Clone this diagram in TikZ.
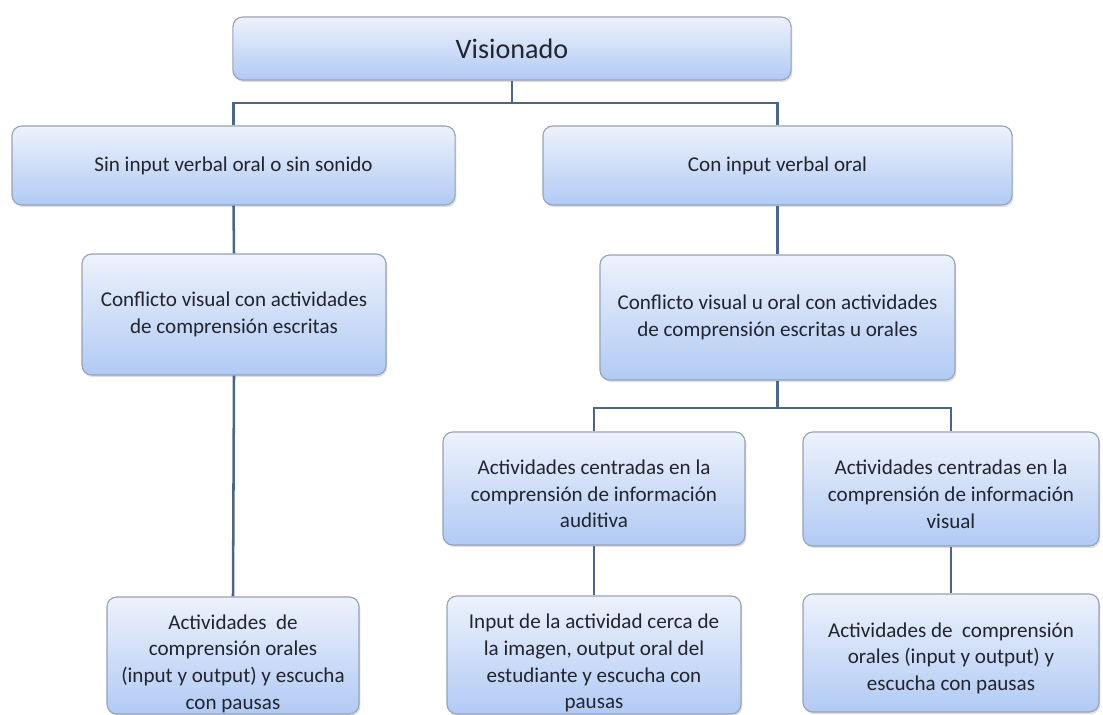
\documentclass[tikz,border=0pt]{standalone}
\usepackage{fontspec}
\setmainfont{Carlito}
\usetikzlibrary{shadows}

\definecolor{boxtop}{HTML}{EDF2FC}
\definecolor{boxbot}{HTML}{B1CAF4}
\definecolor{boxline}{HTML}{98A3B4}
\definecolor{linkc}{HTML}{4E6686}
\definecolor{txtc}{HTML}{22252F}

\newcommand{\lowerby}[1]{\rule{0pt}{#1}}

\tikzset{
  box/.style={draw=boxline, line width=0.8pt, rounded corners=7pt,
    top color=boxtop, bottom color=boxbot, align=center, text=txtc,
    inner sep=2pt, font=\fontsize{15}{19}\selectfont,
    drop shadow={opacity=0.25, shadow xshift=1pt, shadow yshift=-1.5pt}},
  link/.style={draw=linkc, line width=1.8pt}
}

\begin{document}
\begin{tikzpicture}[x=0.025cm, y=-0.025cm]
  \useasboundingbox (0, 0) rectangle (1103, 715);

  \node (vis) at (512, 48.5) [box, minimum width=13.95cm, minimum height=1.575cm,
    font=\fontsize{20}{24}\selectfont] {Visionado};

  \node (sin) at (233.5, 165.5) [box, minimum width=11.075cm, minimum height=1.975cm]
    {Sin input verbal oral o sin sonido};
  \node (con) at (777.5, 165.5) [box, minimum width=11.725cm, minimum height=1.975cm]
    {Con input verbal oral};

  \node (cvis) at (234, 314.5) [box, minimum width=7.6cm, minimum height=3.025cm]
    {Conflicto visual con actividades\\de comprensión escritas};
  \node (cvo) at (777.5, 317.5) [box, minimum width=8.875cm, minimum height=3.125cm]
    {Conflicto visual u oral con actividades\\de comprensión escritas u orales};

  \node (aud) at (594, 488.5) [box, minimum width=7.55cm, minimum height=2.825cm]
    {\lowerby{18pt}Actividades centradas en la\\comprensión de información\\auditiva};
  \node (visu) at (951, 489) [box, minimum width=7.4cm, minimum height=2.85cm]
    {\lowerby{18pt}Actividades centradas en la\\comprensión de información\\visual};

  \node (orl) at (233, 655.5) [box, inner ysep=0pt, minimum width=6.3cm, minimum height=2.925cm]
    {\lowerby{22pt}Actividades\ \ de\\comprensión orales\\(input y output) y escucha\\con pausas};
  \node (inp) at (594, 655) [box, inner ysep=0pt, minimum width=7.35cm, minimum height=2.95cm]
    {\lowerby{22pt}Input de la actividad cerca de\\la imagen, output oral del\\estudiante y escucha con\\pausas};
  \node (ore) at (951, 653) [box, minimum width=7.4cm, minimum height=2.95cm]
    {\lowerby{18pt}Actividades de\ \ comprensión\\orales (input y output) y\\escucha con pausas};

  \coordinate (br1) at (512, 103);
  \coordinate (br2) at (777.5, 408);

  \draw [link] (vis.south) -- (br1);
  \draw [link] (sin.north) |- (br1) -| (con.north);
  \draw [link] (sin.south) -- (cvis.north);
  \draw [link] (cvis.south) -- (orl.north);
  \draw [link] (con.south) -- (cvo.north);
  \draw [link] (cvo.south) -- (br2);
  \draw [link] (aud.north) |- (br2) -| (visu.north);
  \draw [link] (aud.south) -- (inp.north);
  \draw [link] (visu.south) -- (ore.north);
\end{tikzpicture}
\end{document}
